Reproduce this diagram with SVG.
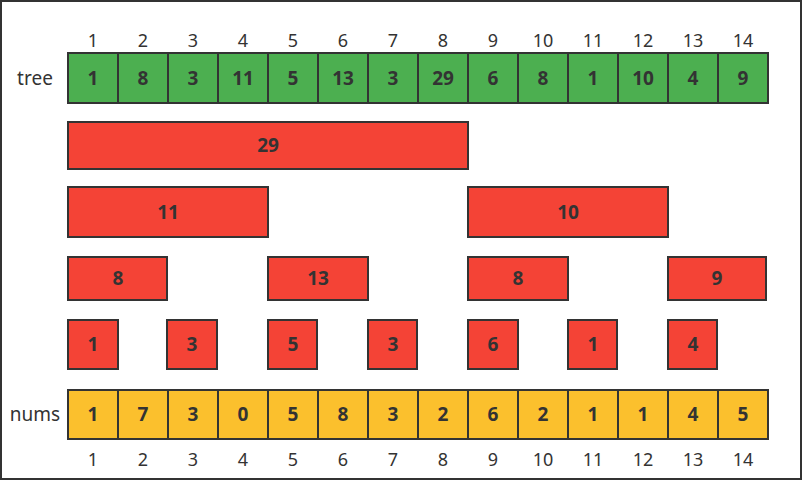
<svg xmlns="http://www.w3.org/2000/svg" width="802" height="480" viewBox="0 0 802 480">
<style>
.c{stroke:#333;stroke-width:2}
.g{fill:#4CAF50}
.r{fill:#F44336}
.y{fill:#FBC02D}
.v{font-family:"Noto Sans","Open Sans",sans-serif;font-size:19px;font-weight:bold;fill:#333;text-anchor:middle}
.i{font-family:"Noto Sans","Open Sans",sans-serif;font-size:18px;fill:#333;text-anchor:middle}
.l{font-family:"Noto Sans","Open Sans",sans-serif;font-size:19px;fill:#333;text-anchor:middle}
</style>
<rect x="1" y="1" width="800" height="478" fill="#fff" stroke="#333" stroke-width="2"/>
<g id="top-index" class="i">
<text x="93" y="47">1</text><text x="143" y="47">2</text><text x="193" y="47">3</text><text x="243" y="47">4</text><text x="293" y="47">5</text><text x="343" y="47">6</text><text x="393" y="47">7</text><text x="443" y="47">8</text><text x="493" y="47">9</text><text x="543" y="47">10</text><text x="593" y="47">11</text><text x="643" y="47">12</text><text x="693" y="47">13</text><text x="743" y="47">14</text>
</g>
<g id="tree">
<text class="l" x="35" y="85">tree</text>
<g class="c g">
<rect x="68" y="53" width="50" height="50"/><rect x="118" y="53" width="50" height="50"/><rect x="168" y="53" width="50" height="50"/><rect x="218" y="53" width="50" height="50"/><rect x="268" y="53" width="50" height="50"/><rect x="318" y="53" width="50" height="50"/><rect x="368" y="53" width="50" height="50"/><rect x="418" y="53" width="50" height="50"/><rect x="468" y="53" width="50" height="50"/><rect x="518" y="53" width="50" height="50"/><rect x="568" y="53" width="50" height="50"/><rect x="618" y="53" width="50" height="50"/><rect x="668" y="53" width="50" height="50"/><rect x="718" y="53" width="50" height="50"/>
</g>
<g class="v">
<text x="93" y="85">1</text><text x="143" y="85">8</text><text x="193" y="85">3</text><text x="243" y="85">11</text><text x="293" y="85">5</text><text x="343" y="85">13</text><text x="393" y="85">3</text><text x="443" y="85">29</text><text x="493" y="85">6</text><text x="543" y="85">8</text><text x="593" y="85">1</text><text x="643" y="85">10</text><text x="693" y="85">4</text><text x="743" y="85">9</text>
</g>
</g>
<g id="seg-1-8"><rect class="c r" x="68" y="122" width="400" height="47"/><text class="v" x="268" y="152">29</text></g>
<g id="seg-1-4"><rect class="c r" x="68" y="187" width="200" height="50"/><text class="v" x="168" y="219">11</text></g>
<g id="seg-9-12"><rect class="c r" x="468" y="187" width="200" height="50"/><text class="v" x="568" y="219">10</text></g>
<g id="seg-1-2"><rect class="c r" x="68" y="257" width="99" height="43"/><text class="v" x="118" y="285">8</text></g>
<g id="seg-5-6"><rect class="c r" x="268" y="257" width="100" height="43"/><text class="v" x="318" y="285">13</text></g>
<g id="seg-9-10"><rect class="c r" x="468" y="257" width="100" height="43"/><text class="v" x="518" y="285">8</text></g>
<g id="seg-13-14"><rect class="c r" x="668" y="257" width="98" height="43"/><text class="v" x="717" y="285">9</text></g>
<g id="seg-1"><rect class="c r" x="68" y="320" width="50" height="49"/><text class="v" x="93" y="351">1</text></g>
<g id="seg-3"><rect class="c r" x="167" y="320" width="50" height="49"/><text class="v" x="192" y="351">3</text></g>
<g id="seg-5"><rect class="c r" x="268" y="320" width="49" height="49"/><text class="v" x="293" y="351">5</text></g>
<g id="seg-7"><rect class="c r" x="368" y="320" width="49" height="49"/><text class="v" x="393" y="351">3</text></g>
<g id="seg-9"><rect class="c r" x="468" y="320" width="50" height="49"/><text class="v" x="493" y="351">6</text></g>
<g id="seg-11"><rect class="c r" x="568" y="320" width="49" height="49"/><text class="v" x="593" y="351">1</text></g>
<g id="seg-13"><rect class="c r" x="668" y="320" width="49" height="49"/><text class="v" x="693" y="351">4</text></g>
<g id="nums">
<text class="l" x="35" y="421">nums</text>
<g class="c y">
<rect x="68" y="390" width="50" height="49"/><rect x="118" y="390" width="50" height="49"/><rect x="168" y="390" width="50" height="49"/><rect x="218" y="390" width="50" height="49"/><rect x="268" y="390" width="50" height="49"/><rect x="318" y="390" width="50" height="49"/><rect x="368" y="390" width="50" height="49"/><rect x="418" y="390" width="50" height="49"/><rect x="468" y="390" width="50" height="49"/><rect x="518" y="390" width="50" height="49"/><rect x="568" y="390" width="50" height="49"/><rect x="618" y="390" width="50" height="49"/><rect x="668" y="390" width="50" height="49"/><rect x="718" y="390" width="50" height="49"/>
</g>
<g class="v">
<text x="93" y="421">1</text><text x="143" y="421">7</text><text x="193" y="421">3</text><text x="243" y="421">0</text><text x="293" y="421">5</text><text x="343" y="421">8</text><text x="393" y="421">3</text><text x="443" y="421">2</text><text x="493" y="421">6</text><text x="543" y="421">2</text><text x="593" y="421">1</text><text x="643" y="421">1</text><text x="693" y="421">4</text><text x="743" y="421">5</text>
</g>
</g>
<g id="bottom-index" class="i">
<text x="93" y="466">1</text><text x="143" y="466">2</text><text x="193" y="466">3</text><text x="243" y="466">4</text><text x="293" y="466">5</text><text x="343" y="466">6</text><text x="393" y="466">7</text><text x="443" y="466">8</text><text x="493" y="466">9</text><text x="543" y="466">10</text><text x="593" y="466">11</text><text x="643" y="466">12</text><text x="693" y="466">13</text><text x="743" y="466">14</text>
</g>
<g id="connectors"></g>
</svg>
